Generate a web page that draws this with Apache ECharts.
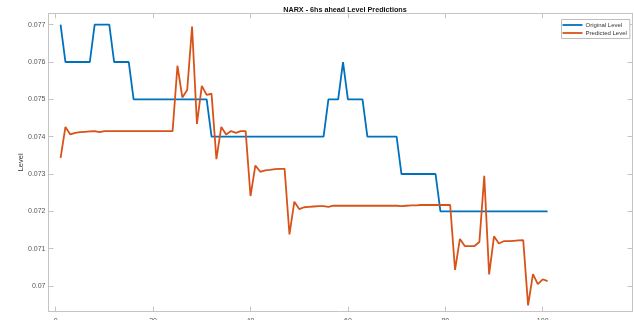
<!DOCTYPE html>
<html>
<head>
<meta charset="utf-8">
<script src="https://cdn.jsdelivr.net/npm/echarts@6/dist/echarts.min.js"></script>
<style>
  html, body { margin: 0; padding: 0; background: #ffffff; }
  #chart { width: 634px; height: 320px; }
</style>
</head>
<body>
<div id="chart"></div>
<script>
// Observed water level (step values) per sample
const originalLevel = [
  0.077,
  0.076, 0.076, 0.076, 0.076, 0.076, 0.076,
  0.077, 0.077, 0.077, 0.077,
  0.076, 0.076, 0.076, 0.076,
  0.075, 0.075, 0.075, 0.075, 0.075, 0.075, 0.075, 0.075,
  0.075, 0.075, 0.075, 0.075, 0.075, 0.075, 0.075, 0.075,
  0.074, 0.074, 0.074, 0.074, 0.074, 0.074, 0.074, 0.074,
  0.074, 0.074, 0.074, 0.074, 0.074, 0.074, 0.074, 0.074,
  0.074, 0.074, 0.074, 0.074, 0.074, 0.074, 0.074, 0.074,
  0.075, 0.075, 0.075,
  0.076,
  0.075, 0.075, 0.075, 0.075,
  0.074, 0.074, 0.074, 0.074, 0.074, 0.074, 0.074,
  0.073, 0.073, 0.073, 0.073, 0.073, 0.073, 0.073, 0.073,
  0.072, 0.072, 0.072, 0.072, 0.072, 0.072, 0.072, 0.072,
  0.072, 0.072, 0.072, 0.072, 0.072, 0.072, 0.072, 0.072,
  0.072, 0.072, 0.072, 0.072, 0.072, 0.072, 0.072
];

// NARX 6-hour-ahead predicted level per sample
const predictedLevel = [
  0.07343, 0.07426, 0.07406, 0.07410, 0.07412, 0.07413, 0.07414, 0.07415, 0.07412, 0.07415,
  0.07415, 0.07415, 0.07415, 0.07415, 0.07415, 0.07415, 0.07415, 0.07415, 0.07415, 0.07415,
  0.07415, 0.07415, 0.07415, 0.07415,
  0.07590, 0.07505, 0.07525, 0.07695, 0.07434, 0.07536, 0.07512, 0.07515, 0.07340, 0.07426,
  0.07406, 0.07415, 0.07410, 0.07415, 0.07415,
  0.07241, 0.07323, 0.07306, 0.07310, 0.07311, 0.07313, 0.07314, 0.07314,
  0.07138, 0.07226, 0.07206, 0.07211, 0.07212, 0.07213, 0.07214, 0.07214, 0.07212, 0.07215,
  0.07215, 0.07215, 0.07215, 0.07215, 0.07215, 0.07215, 0.07215, 0.07215, 0.07215, 0.07215,
  0.07215, 0.07215, 0.07215, 0.07214, 0.07215, 0.07216, 0.07216, 0.07217, 0.07217, 0.07217,
  0.07217, 0.07217, 0.07217, 0.07217,
  0.07043, 0.07126, 0.07107, 0.07107, 0.07107, 0.07118, 0.07295, 0.07031, 0.07133, 0.07114,
  0.07120, 0.07120, 0.07121, 0.07122, 0.07123,
  0.06948, 0.07032, 0.07005, 0.07018, 0.07013
];

const xTicks = [0, 20, 40, 60, 80, 100];
const yTicks = [0.07, 0.071, 0.072, 0.073, 0.074, 0.075, 0.076, 0.077];
const seriesNames = ['Original Level', 'Predicted Level'];

// sample numbers start at 1
const toPairs = arr => arr.map((v, i) => [i + 1, v]);

const frameColor = '#c4c4c4';
const labelColor = '#555555';
const fontFamily = 'Liberation Sans, Arial, sans-serif';

const chart = echarts.init(document.getElementById('chart'), null, { renderer: 'canvas' });

const xRange = { min: -1.48, max: 118.44 };
const yRange = { min: 0.069317, max: 0.077305 };

chart.setOption({
  backgroundColor: '#ffffff',
  animation: false,
  title: {
    text: 'NARX - 6hs ahead Level Predictions',
    left: 340,
    top: 2,
    textAlign: 'center',
    textStyle: { fontFamily, fontSize: 7.2, fontWeight: 'bold', color: '#111111' }
  },
  legend: {
    data: seriesNames,
    orient: 'vertical',
    left: 561.5,
    top: 19.5,
    icon: 'rect',
    itemWidth: 20,
    itemHeight: 1.8,
    itemGap: 1,
    padding: [2, 3, 2, 1],
    borderColor: '#bdbdbd',
    borderWidth: 1,
    backgroundColor: '#ffffff',
    textStyle: { fontFamily, fontSize: 6, color: '#333333', lineHeight: 7, padding: [0, 0, 0, -2] }
  },
  grid: { left: 48.5, right: 1.5, top: 13.3, bottom: 8.5, containLabel: false, outerBoundsMode: 'none' },
  xAxis: [
    {
      type: 'value', position: 'bottom', ...xRange,
      axisLine: { show: true, onZero: false, lineStyle: { color: frameColor, width: 1 } },
      axisTick: { show: true, inside: true, length: 5, customValues: xTicks, lineStyle: { color: frameColor } },
      axisLabel: { show: true, margin: 6, customValues: xTicks, color: labelColor, fontSize: 7, fontFamily },
      splitLine: { show: false }
    },
    {
      type: 'value', position: 'top', ...xRange,
      axisLine: { show: true, onZero: false, lineStyle: { color: frameColor, width: 1 } },
      axisTick: { show: true, inside: true, length: 5, customValues: xTicks, lineStyle: { color: frameColor } },
      axisLabel: { show: false },
      splitLine: { show: false }
    }
  ],
  yAxis: [
    {
      type: 'value', position: 'left', ...yRange,
      name: 'Level', nameLocation: 'middle', nameGap: 24, nameMoveOverlap: false,
      nameTextStyle: { fontFamily, fontSize: 7.5, color: '#333333' },
      axisLine: { show: true, onZero: false, lineStyle: { color: frameColor, width: 1 } },
      axisTick: { show: true, inside: true, length: 5, customValues: yTicks, lineStyle: { color: frameColor } },
      axisLabel: { show: true, margin: 3, customValues: yTicks, color: labelColor, fontSize: 7, fontFamily,
        formatter: v => String(+v.toFixed(3)) },
      splitLine: { show: false }
    },
    {
      type: 'value', position: 'right', ...yRange,
      axisLine: { show: true, onZero: false, lineStyle: { color: frameColor, width: 1 } },
      axisTick: { show: true, inside: true, length: 5, customValues: yTicks, lineStyle: { color: frameColor } },
      axisLabel: { show: false },
      splitLine: { show: false }
    }
  ],
  series: [
    {
      name: seriesNames[0], type: 'line', xAxisIndex: 0, yAxisIndex: 0,
      data: toPairs(originalLevel), showSymbol: false, symbol: 'none',
      lineStyle: { color: '#0072BD', width: 1.8 }, itemStyle: { color: '#0072BD' }
    },
    {
      name: seriesNames[1], type: 'line', xAxisIndex: 0, yAxisIndex: 0,
      data: toPairs(predictedLevel), showSymbol: false, symbol: 'none',
      lineStyle: { color: '#D95319', width: 1.8 }, itemStyle: { color: '#D95319' }
    }
  ]
});
</script>
</body>
</html>
